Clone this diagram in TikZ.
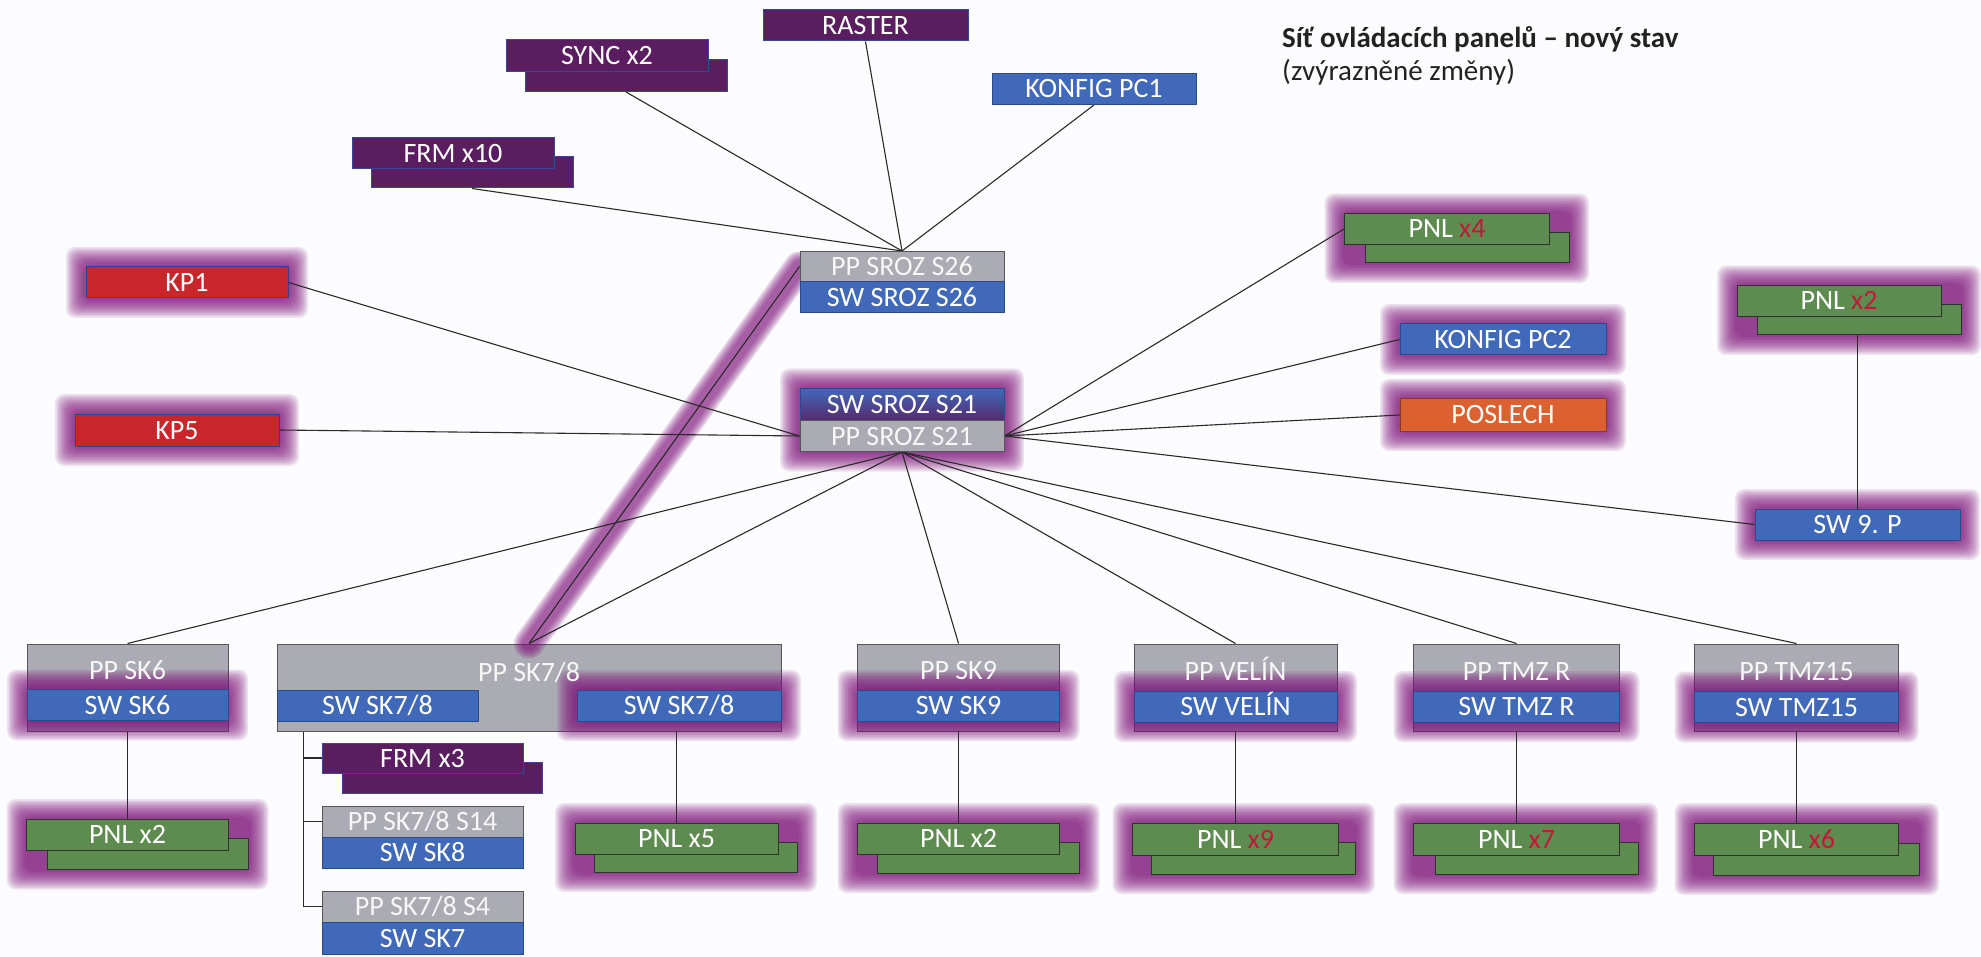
\documentclass[tikz,border=0pt]{standalone}
\usepackage{fontspec}
\setmainfont{Carlito}
\usetikzlibrary{calc}

\definecolor{pagebg}{HTML}{FCFCFE}
\definecolor{purp}{HTML}{5A1E60}
\definecolor{purpedge}{HTML}{34489A}
\definecolor{swblue}{HTML}{4169B9}
\definecolor{swedge}{HTML}{2B4A8E}
\definecolor{kpred}{HTML}{C8262B}
\definecolor{kpedge}{HTML}{34408F}
\definecolor{orng}{HTML}{DC6130}
\definecolor{orngedge}{HTML}{8A3A20}
\definecolor{pnlgreen}{HTML}{5E8B4F}
\definecolor{pnledge}{HTML}{2C352C}
\definecolor{ppgrey}{HTML}{ABABB3}
\definecolor{ppedge}{HTML}{55555E}
\definecolor{glowc}{HTML}{7E127A}
\definecolor{cnt}{HTML}{C4183A}
\definecolor{wire}{HTML}{2A2A2A}
\definecolor{titlec}{HTML}{222222}

\pgfdeclarelayer{paper}
\pgfdeclarelayer{under}
\pgfdeclarelayer{halo}
\pgfdeclarelayer{wires}
\pgfsetlayers{paper,under,halo,wires,main}

\tikzset{
  blk/.style={rectangle, inner sep=0pt, line width=1pt,
    minimum width=204pt, minimum height=31pt, text=white,
    font=\fontsize{28}{32}\selectfont, text height=18pt, text depth=0pt},
  purpbox/.style={blk, fill=purp, draw=purpedge},
  swbox/.style={blk, fill=swblue, draw=swedge},
  kpbox/.style={blk, fill=kpred, draw=kpedge},
  orbox/.style={blk, fill=orng, draw=orngedge},
  pnlbox/.style={blk, fill=pnlgreen, draw=pnledge},
  ppbox/.style={blk, fill=ppgrey, draw=ppedge, text=white!90!ppgrey},
  pptext/.style={inner sep=0pt, text=white!90!ppgrey,
    font=\fontsize{28}{32}\selectfont, text height=18pt, text depth=0pt},
  wirel/.style={draw=wire, line width=1.1pt},
  titletext/.style={inner sep=0pt, anchor=base west, text=titlec},
}

% soft magenta halo round a rectangle given by its two corners
\newcommand{\halo}[2]{%
  \begin{pgfonlayer}{halo}
    \foreach \g in {1.5,3,...,19.5} {
      \fill[glowc, opacity=0.11, rounded corners=9pt]
        ($#1+(-\g,-\g)$) rectangle ($#2+(\g,\g)$);
    }
  \end{pgfonlayer}}

\begin{document}
\begin{tikzpicture}[x=1pt,y=-1pt]
\useasboundingbox (0,0) rectangle (1981,957);
\begin{pgfonlayer}{paper}
  \fill[pagebg] (0,0) rectangle (1981,957);
\end{pgfonlayer}

% ---- title
\node[titletext, font=\fontsize{29}{34}\selectfont\bfseries] (title) at (1282,48)
  {Síť ovládacích panelů – nový stav};
\node[titletext, font=\fontsize{29}{34}\selectfont] (subtitle) at (1282,81)
  {(zvýrazněné změny)};

% ---- upper group
\node[purpbox, minimum width=205pt] (raster) at (865.5,25.5) {RASTER};
\node[purpbox, minimum width=202pt, minimum height=32pt] (syncb) at (626,75.5) {};
\node[purpbox, minimum width=202pt, minimum height=32pt] (syncf) at (607,56) {SYNC x2};
\node[swbox] (kpc1) at (1094,89) {KONFIG PC1};
\node[purpbox, minimum width=202pt] (frmb) at (472,172.5) {};
\node[purpbox, minimum width=202pt] (frmf) at (453,153.5) {FRM x10};
\node[kpbox, minimum width=202pt] (kp1) at (187,282.5) {KP1};
\node[kpbox, minimum height=32pt] (kp5) at (177,430) {KP5};

\node[ppbox, minimum height=30pt] (pps26) at (902,266.5) {PP SROZ S26};
\node[swbox] (sws26) at (902,297.5) {SW SROZ S26};
\node[blk, top color=swblue, bottom color=purp!85!swblue, draw=swedge,
  minimum height=32pt] (sws21) at (902,404.5) {SW SROZ S21};
\node[ppbox] (pps21) at (902,436) {PP SROZ S21};

\node[pnlbox, minimum height=30pt] (pnl4b) at (1467,248) {};
\node[pnlbox, minimum width=205pt] (pnl4f) at (1447,229) {PNL {\color{cnt}x4}};
\node[swbox, minimum width=206pt] (kpc2) at (1503,339.5) {KONFIG PC2};
\node[orbox, minimum width=206pt, minimum height=32pt] (poslech) at (1503,415) {POSLECH};
\node[pnlbox, minimum height=30pt] (pnl2rb) at (1859,320) {};
\node[pnlbox] (pnl2rf) at (1839,301) {PNL {\color{cnt}x2}};
\node[swbox, minimum width=205pt] (sw9p) at (1857.5,524.5) {SW 9. P};

% ---- lower row: PP housings
\begin{pgfonlayer}{under}
  \node[ppbox, minimum width=201pt, minimum height=87pt] (pp6) at (127.5,687.5) {};
  \node[ppbox, minimum width=504pt, minimum height=87pt] (pp78) at (529,687.5) {};
  \node[ppbox, minimum width=202pt, minimum height=87pt] (pp9) at (958.5,687.5) {};
  \node[ppbox, minimum width=203pt, minimum height=87pt] (ppvel) at (1235.5,687.5) {};
  \node[ppbox, minimum width=206pt, minimum height=87pt] (pptr) at (1516.5,687.5) {};
  \node[ppbox, minimum width=204pt, minimum height=87pt] (pptz) at (1796.5,687.5) {};
\end{pgfonlayer}
\node[pptext] (pp6t) at (127.5,670) {PP SK6};
\node[pptext] (pp78t) at (529,672) {PP SK7/8};
\node[pptext] (pp9t) at (958.5,670) {PP SK9};
\node[pptext] (ppvelt) at (1235.5,671) {PP VELÍN};
\node[pptext] (pptrt) at (1516.5,671) {PP TMZ R};
\node[pptext] (pptzt) at (1796.5,671) {PP TMZ15};

\node[swbox, minimum width=201pt] (sw6) at (127.5,705) {SW SK6};
\node[swbox, minimum width=201pt] (sw78l) at (377.5,705.5) {SW SK7/8};
\node[swbox] (sw78r) at (679,705.5) {SW SK7/8};
\node[swbox, minimum width=202pt] (sw9) at (958.5,705.5) {SW SK9};
\node[swbox, minimum width=203pt] (swvel) at (1235.5,706.5) {SW VELÍN};
\node[swbox, minimum width=206pt] (swtr) at (1516.5,706.5) {SW TMZ R};
\node[swbox] (swtz) at (1796.5,707) {SW TMZ15};

% ---- lower row: panels
\node[pnlbox, minimum width=201pt] (pnl6b) at (148,854) {};
\node[pnlbox, minimum width=202pt] (pnl6f) at (127.5,834.5) {PNL x2};
\node[pnlbox, minimum width=203pt, minimum height=30pt] (pnl5b) at (695.5,857) {};
\node[pnlbox, minimum width=203pt] (pnl5f) at (676.5,838.5) {PNL x5};
\node[pnlbox, minimum width=202pt] (pnl9b) at (978.5,857.5) {};
\node[pnlbox, minimum width=202pt] (pnl9f) at (958.5,838.5) {PNL x2};
\node[pnlbox, minimum width=204pt, minimum height=32pt] (pnlvb) at (1253,858) {};
\node[pnlbox, minimum width=206pt, minimum height=32pt] (pnlvf) at (1235.5,839) {PNL {\color{cnt}x9}};
\node[pnlbox, minimum width=203pt, minimum height=32pt] (pnltb) at (1536.5,858) {};
\node[pnlbox, minimum width=206pt, minimum height=32pt] (pnltf) at (1516.5,839) {PNL {\color{cnt}x7}};
\node[pnlbox, minimum width=206pt, minimum height=32pt] (pnlzb) at (1816,859) {};
\node[pnlbox, minimum height=32pt] (pnlzf) at (1796.5,839) {PNL {\color{cnt}x6}};

% ---- SK7/8 sub-tree
\node[purpbox, minimum width=200pt] (frm3b) at (442,777.5) {};
\node[purpbox, minimum width=201pt, minimum height=30pt] (frm3f) at (422.5,758) {FRM x3};
\node[ppbox, minimum width=201pt] (pp14) at (422.5,821.5) {PP SK7/8 S14};
\node[swbox, minimum width=201pt] (sw8) at (422.5,852.5) {SW SK8};
\node[ppbox, minimum width=201pt] (pp4) at (422.5,906.5) {PP SK7/8 S4};
\node[swbox, minimum width=201pt, minimum height=32pt] (sw7) at (422.5,938.5) {SW SK7};

% ---- highlighted changes
\halo{(kp1.north west)}{(kp1.south east)}
\halo{(kp5.north west)}{(kp5.south east)}
\halo{(sws21.north west)}{(pps21.south east)}
\halo{(pnl4f.north west)}{(pnl4b.south east)}
\halo{(kpc2.north west)}{(kpc2.south east)}
\halo{(poslech.north west)}{(poslech.south east)}
\halo{(pnl2rf.north west)}{(pnl2rb.south east)}
\halo{(sw9p.north west)}{(sw9p.south east)}
\halo{(sw6.north west)}{(sw6.south east)}
\halo{(pnl6f.north west)}{(pnl6b.south east)}
\halo{(sw78r.north west)}{(sw78r.south east)}
\halo{(pnl5f.north west)}{(pnl5b.south east)}
\halo{(sw9.north west)}{(sw9.south east)}
\halo{(pnl9f.north west)}{(pnl9b.south east)}
\halo{(swvel.north west)}{(swvel.south east)}
\halo{(pnlvf.north west)}{(pnlvb.south east)}
\halo{(swtr.north west)}{(swtr.south east)}
\halo{(pnltf.north west)}{(pnltb.south east)}
\halo{(swtz.north west)}{(swtz.south east)}
\halo{(pnlzf.north west)}{(pnlzb.south east)}
\begin{pgfonlayer}{halo}
  \foreach \w in {30,26,22,18,14} {
    \draw[glowc, opacity=0.2, line width=\w pt, line cap=round]
      (pps26.west) -- (pp78.north);
  }
\end{pgfonlayer}

% ---- connectors
\begin{pgfonlayer}{wires}
  \draw[wirel] (raster.south) -- (pps26.north);
  \draw[wirel] (syncb.south) -- (pps26.north);
  \draw[wirel] (frmb.south) -- (pps26.north);
  \draw[wirel] (kpc1.south) -- (pps26.north);
  \draw[wirel] (pps26.west) -- (pp78.north);

  \draw[wirel] (kp1.east) -- (pps21.west);
  \draw[wirel] (kp5.east) -- (pps21.west);

  \draw[wirel] (pps21.east) -- (pnl4f.west);
  \draw[wirel] (pps21.east) -- (kpc2.west);
  \draw[wirel] (pps21.east) -- (poslech.west);
  \draw[wirel] (pps21.east) -- (sw9p.west);

  \draw[wirel] (pps21.south) -- (pp6.north);
  \draw[wirel] (pps21.south) -- (pp78.north);
  \draw[wirel] (pps21.south) -- (pp9.north);
  \draw[wirel] (pps21.south) -- (ppvel.north);
  \draw[wirel] (pps21.south) -- (pptr.north);
  \draw[wirel] (pps21.south) -- (pptz.north);

  \draw[wirel] (sw9p.north) -- (sw9p.north |- pnl2rb.south);
  \draw[wirel] (pp6.south) -- (pnl6f.north);
  \draw[wirel] (pnl5f.north) -- (pnl5f.north |- pp78.south);
  \draw[wirel] (pp9.south) -- (pnl9f.north);
  \draw[wirel] (ppvel.south) -- (pnlvf.north);
  \draw[wirel] (pptr.south) -- (pnltf.north);
  \draw[wirel] (pptz.south) -- (pnlzf.north);

  \coordinate (trunk) at ($(pp78.south west)+(27,0)$);
  \draw[wirel] (trunk) |- (pp4.west);
  \draw[wirel] (trunk |- frm3f.west) -- (frm3f.west);
  \draw[wirel] (trunk |- pp14.west) -- (pp14.west);
\end{pgfonlayer}
\end{tikzpicture}
\end{document}
